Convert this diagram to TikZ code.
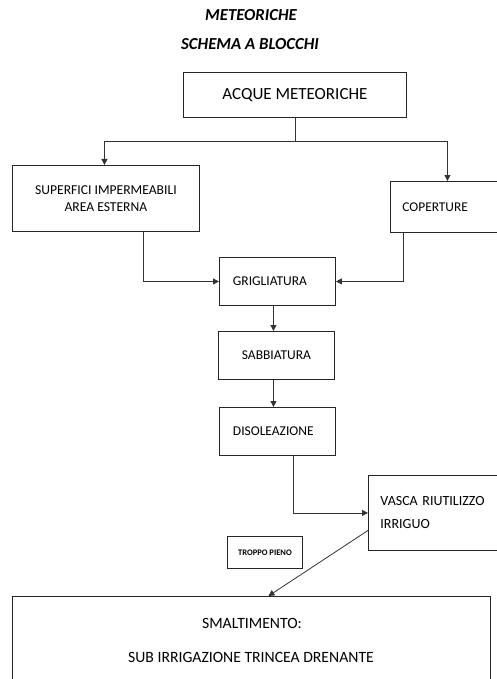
\documentclass[tikz,border=0pt]{standalone}
\usepackage{fontspec}
\setmainfont{Carlito}
\usetikzlibrary{arrows.meta}
\begin{document}
\begin{tikzpicture}[x=1pt,y=-1pt,
  box/.style={draw=black!85,line width=0.9pt,rectangle,inner sep=0pt,anchor=north west,text=black},
  arr/.style={draw=black!80,line width=0.8pt,-{Triangle[length=6pt,width=6pt]}},
  ln/.style={draw=black!80,line width=0.8pt},
  ttl/.style={font=\fontsize{16.8}{18}\selectfont\bfseries\itshape,inner sep=0pt}]
\useasboundingbox (0,0) rectangle (497,679);
\clip (0,0) rectangle (497,679);
\node[ttl] (t1) at (251,15) {METEORICHE};
\node[ttl] (t2) at (250,44) {SCHEMA A BLOCCHI};
\node[box,minimum width=223pt,minimum height=45pt,font=\fontsize{17}{20}\selectfont] (acque) at (183,72) {ACQUE METEORICHE};
\node[box,minimum width=187pt,minimum height=66pt,align=center,font=\fontsize{13.6}{17}\selectfont] (sup) at (12,165) {SUPERFICI IMPERMEABILI\\AREA ESTERNA};
\node[box,minimum width=107pt,minimum height=51pt,text width=99pt,align=left,font=\fontsize{13.4}{16}\selectfont] (cop) at (390,181) {\hspace*{8pt}COPERTURE};
\node[box,minimum width=116pt,minimum height=48pt,text width=107pt,align=left,font=\fontsize{13.5}{16}\selectfont] (grig) at (219,257) {\hspace*{9pt}GRIGLIATURA};
\node[box,minimum width=116pt,minimum height=48pt,font=\fontsize{13.5}{16}\selectfont] (sab) at (218,331) {SABBIATURA};
\node[box,minimum width=116pt,minimum height=48pt,text width=107pt,align=left,font=\fontsize{13.5}{16}\selectfont] (dis) at (219,407) {\hspace*{9pt}DISOLEAZIONE};
\node[box,minimum width=131pt,minimum height=75pt,text width=123pt,align=left,font=\fontsize{14}{23}\selectfont] (vasca) at (368,475) {\hspace*{8pt}VASCA RIUTILIZZO\\\hspace*{8pt}IRRIGUO};
\node[box,minimum width=75pt,minimum height=32pt,font=\fontsize{8.5}{10}\selectfont\bfseries] (tp) at (227,536) {TROPPO PIENO};
\node[box,minimum width=478pt,minimum height=110pt] (smalt) at (12,596) {};
\node[font=\fontsize{15.7}{18}\selectfont,inner sep=0pt] (s1) at (252,623) {SMALTIMENTO:};
\node[font=\fontsize{15.7}{18}\selectfont,inner sep=0pt] (s2) at (251,657) {SUB IRRIGAZIONE TRINCEA DRENANTE};
% connectors
\draw[ln] (acque.south) -- (acque.south |- 0,141) coordinate (split);
\draw[arr] (split) -| ([xshift=-1.5pt]sup.north);
\draw[arr] (split) -| ([xshift=3.5pt]cop.north);
\draw[arr] ([xshift=37.5pt]sup.south) |- (grig.west);
\draw[arr] ([xshift=-40.5pt]cop.south) |- (grig.east);
\draw[arr] ([xshift=-4pt]grig.south) -- ([xshift=-4pt]grig.south |- sab.north);
\draw[arr] ([xshift=-3pt]sab.south) -- ([xshift=-3pt]sab.south |- dis.north);
\draw[arr] ([xshift=16pt]dis.south) |- (vasca.west);
\draw[arr] ([yshift=-17.5pt]vasca.west) -- ([xshift=17pt]smalt.north);
\end{tikzpicture}
\end{document}
